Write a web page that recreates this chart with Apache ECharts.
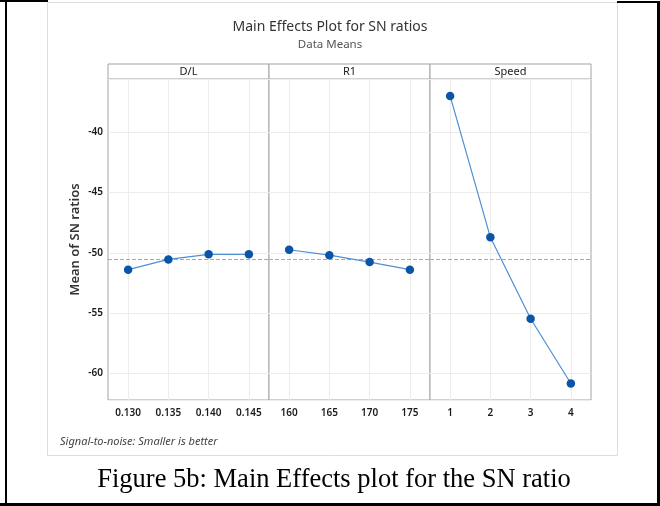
<!DOCTYPE html>
<html>
<head>
<meta charset="utf-8">
<script src="https://cdn.jsdelivr.net/npm/echarts@6/dist/echarts.min.js"></script>
<style>
  html, body { margin: 0; padding: 0; background: #fff; }
  #main { width: 660px; height: 506px; }
</style>
</head>
<body>
<div id="main"></div>
<script>
// factors and their levels
var factors = ['D/L', 'R1', 'Speed'];
var dlLevels = ['0.130', '0.135', '0.140', '0.145'];
var r1Levels = ['160', '165', '170', '175'];
var speedLevels = ['1', '2', '3', '4'];

// mean of SN ratios
var dlMeans = [-51.40, -50.55, -50.13, -50.13];
var r1Means = [-49.75, -50.20, -50.77, -51.40];
var speedMeans = [-37.00, -48.72, -55.47, -60.83];

var levels = [dlLevels, r1Levels, speedLevels];
var means = [dlMeans, r1Means, speedMeans];

var all = dlMeans.concat(r1Means, speedMeans);
var grandMean = all.reduce(function (a, b) { return a + b; }, 0) / all.length;

var font = 'Noto Sans';
var panelLeft = 108, panelW = 161, panelTop = 79, panelH = 321;

var grids = [], xAxes = [], yAxes = [], series = [], graphics = [];

for (var i = 0; i < 3; i++) {
    grids.push({
        left: panelLeft + i * panelW,
        top: panelTop,
        width: panelW,
        height: panelH,
        show: true,
        borderColor: '#a3a3a3',
        borderWidth: 1,
        backgroundColor: '#fff'
    });
    xAxes.push({
        type: 'category',
        gridIndex: i,
        data: levels[i],
        boundaryGap: true,
        axisLine: { show: false },
        axisTick: { show: false },
        axisLabel: { color: '#1a1a1a', fontFamily: font, fontSize: 10, fontWeight: 600, margin: 8 },
        splitLine: { show: true, alignWithLabel: true, lineStyle: { color: '#ececec' } }
    });
    yAxes.push({
        type: 'value',
        gridIndex: i,
        min: -62.2,
        max: -35.6,
        splitNumber: 5,
        axisLine: { show: false },
        axisTick: { show: false },
        axisLabel: {
            show: i === 0,
            showMinLabel: false,
            showMaxLabel: false,
            color: '#1a1a1a', fontFamily: font, fontSize: 10, fontWeight: 600, margin: 5
        },
        splitLine: { show: true, lineStyle: { color: '#ececec' } },
        name: i === 0 ? 'Mean of SN ratios' : '',
        nameLocation: 'middle',
        nameGap: 26,
        nameTextStyle: { color: '#333', fontFamily: font, fontSize: 13, fontWeight: 600 }
    });
    series.push({
        type: 'line',
        xAxisIndex: i,
        yAxisIndex: i,
        data: means[i],
        symbol: 'circle',
        symbolSize: 8.5,
        itemStyle: { color: '#0a55a5' },
        lineStyle: { color: '#4f8fd0', width: 1.2 },
        z: 5,
        markLine: {
            silent: true,
            symbol: 'none',
            label: { show: false },
            lineStyle: { color: '#aaaaaa', type: 'dashed', width: 1 },
            data: [{ yAxis: grandMean }]
        }
    });
    // factor header strip
    graphics.push({
        type: 'rect',
        shape: { x: panelLeft + i * panelW, y: 64, width: panelW, height: 15 },
        style: { fill: '#fff', stroke: '#a3a3a3', lineWidth: 1 }
    });
    graphics.push({
        type: 'text',
        x: panelLeft + i * panelW + panelW / 2,
        y: 71.5,
        style: { text: factors[i], fill: '#222', font: '11px "' + font + '"', align: 'center', verticalAlign: 'middle' }
    });
}

// frames
graphics.push(
    { type: 'rect', shape: { x: 47.5, y: 2.5, width: 570, height: 453 }, style: { fill: 'none', stroke: '#dddddd', lineWidth: 1 }, z: -1 },
    { type: 'rect', shape: { x: 0, y: 0, width: 48, height: 2 }, style: { fill: '#000' } },
    { type: 'rect', shape: { x: 617, y: 1, width: 43, height: 2 }, style: { fill: '#000' } },
    { type: 'rect', shape: { x: 5, y: 0, width: 2, height: 506 }, style: { fill: '#000' } },
    { type: 'rect', shape: { x: 657, y: 1, width: 3, height: 505 }, style: { fill: '#000' } },
    { type: 'rect', shape: { x: 0, y: 503, width: 660, height: 3 }, style: { fill: '#000' } },
    {
        type: 'text', x: 60, y: 442,
        style: { text: 'Signal-to-noise: Smaller is better', fill: '#444', font: 'italic 11px "' + font + '"', verticalAlign: 'middle' }
    },
    {
        type: 'text', x: 334, y: 480,
        style: { text: 'Figure 5b: Main Effects plot for the SN ratio', fill: '#000', font: '26.5px "Liberation Serif"', align: 'center', verticalAlign: 'middle' }
    }
);

var myChart = echarts.init(document.getElementById('main'));
myChart.setOption({
    animation: false,
    title: {
        text: 'Main Effects Plot for SN ratios',
        subtext: 'Data Means',
        left: 'center',
        top: 15,
        itemGap: 5,
        textStyle: { color: '#333', fontFamily: font, fontSize: 14, fontWeight: 'normal' },
        subtextStyle: { color: '#555', fontFamily: font, fontSize: 11.5 }
    },
    grid: grids,
    xAxis: xAxes,
    yAxis: yAxes,
    series: series,
    graphic: graphics
});
</script>
</body>
</html>
